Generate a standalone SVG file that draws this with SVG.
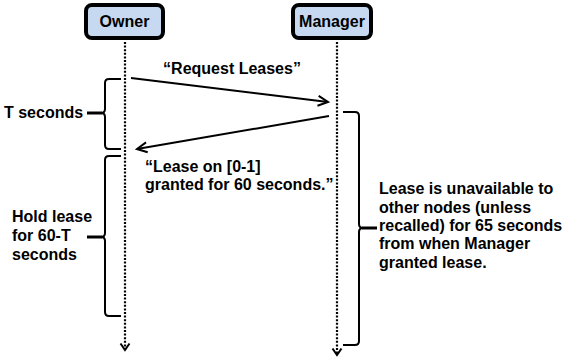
<svg xmlns="http://www.w3.org/2000/svg" width="563" height="362" viewBox="0 0 563 362">
  <style>
    .box { fill: #c6d9f1; stroke: #000; stroke-width: 4; }
    .lbl { font-family: "Liberation Sans", Arial, sans-serif; font-weight: bold; font-size: 16px; fill: #000; }
    .life { stroke: #000; stroke-width: 2.2; stroke-dasharray: 2 1.6; fill: none; }
    .msg { stroke: #000; stroke-width: 2; fill: none; }
    .brace { stroke: #000; stroke-width: 2; fill: none; }
    .tick { stroke: #000; stroke-width: 3; fill: none; }
  </style>
  <defs>
    <marker id="open" markerUnits="userSpaceOnUse" markerWidth="16" markerHeight="16" refX="12" refY="8" orient="auto">
      <path d="M2 3 L12 8 L2 13" fill="none" stroke="#000" stroke-width="2"/>
    </marker>
    <marker id="vee" markerUnits="userSpaceOnUse" markerWidth="12" markerHeight="12" refX="8" refY="6" orient="auto">
      <path d="M1.5 1.5 L8 6 L1.5 10.5" fill="none" stroke="#000" stroke-width="2"/>
    </marker>
  </defs>

  <!-- participants -->
  <g id="owner">
    <rect class="box" x="86" y="5" width="77" height="33" rx="6"/>
    <text class="lbl" x="124.5" y="27" text-anchor="middle">Owner</text>
  </g>
  <g id="manager">
    <rect class="box" x="293" y="5" width="78" height="33" rx="6"/>
    <text class="lbl" x="332" y="27" text-anchor="middle">Manager</text>
  </g>

  <!-- lifelines and messages -->
  <g id="connectors">
    <path class="life" d="M125 42 V350" marker-end="url(#vee)"/>
    <path class="life" d="M337 42 V355" marker-end="url(#vee)"/>
    <path class="msg" d="M131 78 L328 102" marker-end="url(#open)"/>
    <path class="msg" d="M329 116 L137 149" marker-end="url(#open)"/>
  </g>

  <g id="request-label">
    <text class="lbl" x="232" y="74" text-anchor="middle">“Request Leases”</text>
  </g>

  <g id="grant-label">
    <text class="lbl" x="145" y="172">“Lease on [0-1]</text>
    <text class="lbl" x="145" y="190">granted for 60 seconds.”</text>
  </g>

  <!-- round-trip interval -->
  <g id="t-seconds">
    <path class="brace" d="M121 79 H109 Q105 79 105 83 V109 Q105 113 101 113 Q105 113 105 117 V145 Q105 149 109 149 H121"/>
    <path class="tick" d="M87 113 H102"/>
    <text class="lbl" x="4" y="118">T seconds</text>
  </g>

  <!-- owner holding interval -->
  <g id="hold-lease">
    <path class="brace" d="M121 156 H109 Q105 156 105 160 V233 Q105 237 101 237 Q105 237 105 241 V312 Q105 316 109 316 H121"/>
    <path class="tick" d="M87 237 H102"/>
    <text class="lbl" x="12" y="222">Hold lease</text>
    <text class="lbl" x="12" y="241">for 60-T</text>
    <text class="lbl" x="12" y="260">seconds</text>
  </g>

  <!-- manager reservation interval -->
  <g id="unavailable">
    <path class="brace" d="M343 112 H355 Q359 112 359 116 V224 Q359 228 363 228 Q359 228 359 232 V341 Q359 345 355 345 H343"/>
    <path class="tick" d="M362 228 H377"/>
    <text class="lbl" x="379" y="194">Lease is unavailable to</text>
    <text class="lbl" x="379" y="213">other nodes (unless</text>
    <text class="lbl" x="379" y="231">recalled) for 65 seconds</text>
    <text class="lbl" x="379" y="249">from when Manager</text>
    <text class="lbl" x="379" y="268">granted lease.</text>
  </g>
</svg>
